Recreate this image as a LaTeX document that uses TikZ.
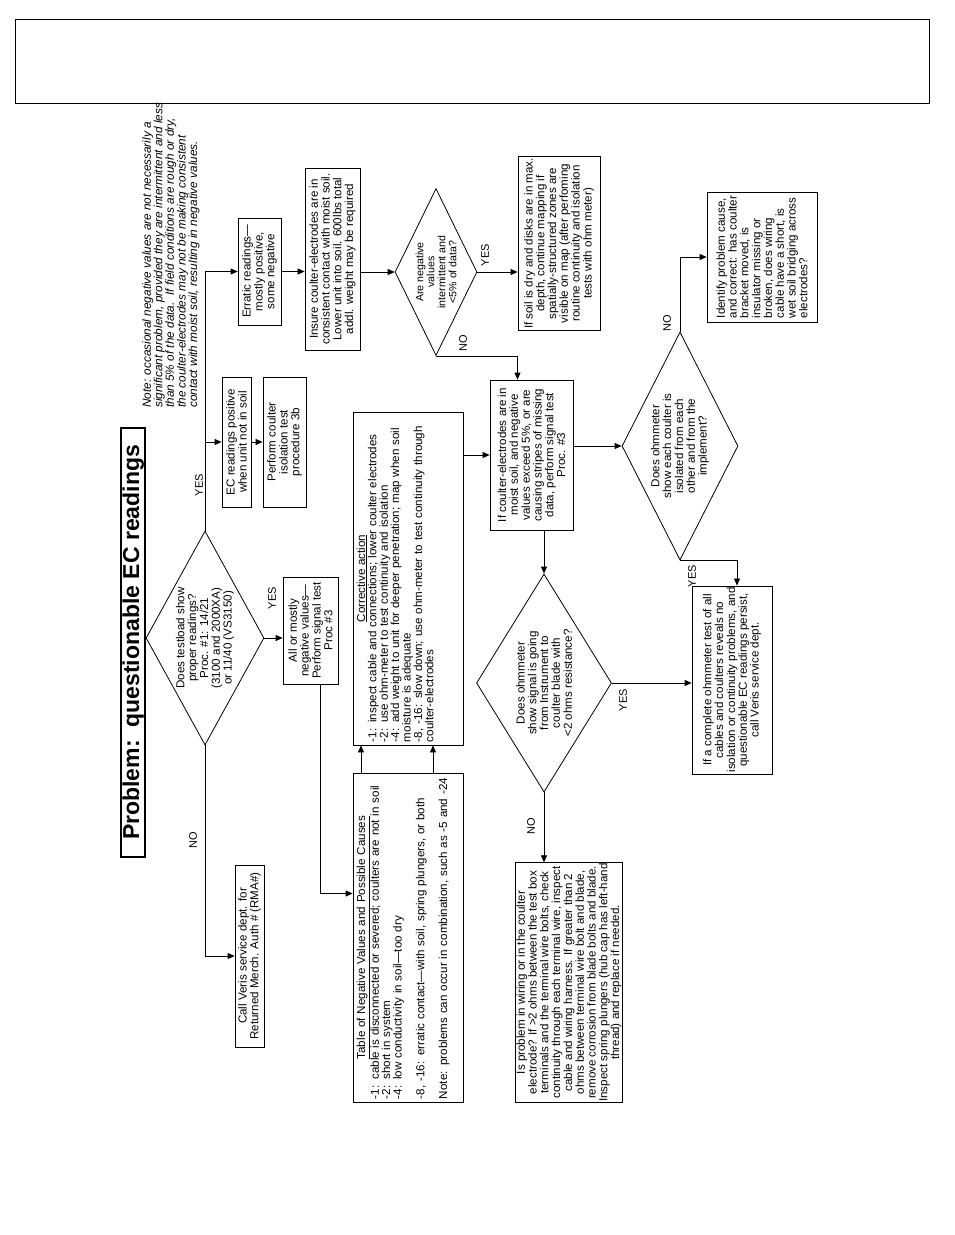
\documentclass[tikz,border=0pt]{standalone}
\usepackage{fontspec}
\setmainfont{Liberation Sans}
\usetikzlibrary{shapes.geometric,arrows.meta}

\begin{document}
\begin{tikzpicture}[x=1pt, y=-1pt, >={Triangle[length=7pt,width=6pt]},
    box/.style={draw, line width=0.8pt, rotate=90, align=center, inner sep=1.5pt, font=\fontsize{11.6}{11.8}\selectfont},
    query/.style={draw, line width=0.8pt, diamond, rotate=90, align=center, inner sep=0pt, font=\fontsize{11.6}{11.8}\selectfont},
    sheet/.style={draw, line width=0.8pt, rotate=90, align=left, inner sep=3pt, text height=9pt, font=\fontsize{11.6}{11.4}\selectfont},
    tag/.style={rotate=90, inner sep=0pt, font=\fontsize{11}{12}\selectfont},
    link/.style={->, line width=0.8pt}]
  \fill[white] (0,0) rectangle (954,1235);
  \useasboundingbox (0,0) rectangle (954,1235);

  % header and title
  \node[draw, line width=0.8pt, minimum width=914pt, minimum height=84pt] (header) at (472,61) {};
  \node[draw, line width=2.4pt, rotate=90, inner sep=0pt, minimum width=429pt, minimum height=24pt,
        text height=16.5pt, text depth=4.5pt, font=\bfseries\fontsize{23}{25}\selectfont] (title) at (133,642.5)
        {Problem:\ \ questionable EC readings};
  \node[rotate=90, anchor=north west, align=left, inner sep=0pt, font=\itshape\fontsize{11.8}{11.6}\selectfont] (note) at (142,408)
        {Note: occasional negative values are not necessarily a\\
         significant problem, provided they are intermittent and less\\
         than 5\% of the data.\ \ If field conditions are rough or dry,\\
         the coulter-electrodes may not be making consistent\\
         contact with moist soil, resulting in negative values.};

  % testload question and its branches
  \node[query, aspect=1.8, minimum width=214pt, minimum height=118pt] (d1) at (205,638)
        {Does testload show\\proper readings?\\Proc. \#1: 14/21\\(3100 and 2000XA)\\or 11/40 (VS3150)};
  \node[box, minimum width=107pt, minimum height=43pt] (err) at (259.5,271.5)
        {Erratic readings—\\mostly positive,\\some negative};
  \node[box, minimum width=130pt, minimum height=29pt] (ecp) at (236.5,442)
        {EC readings positive\\when unit not in soil};
  \node[box, minimum width=130pt, minimum height=43pt] (perf) at (284.5,442)
        {Perform coulter\\isolation test\\procedure 3b};
  \node[box, minimum width=107pt, minimum height=55pt] (all) at (310.5,630.5)
        {All or mostly\\negative values—\\Perform signal test\\Proc \#3};
  \node[box, minimum width=182pt, minimum height=29pt] (rma) at (249.5,956)
        {Call Veris service dept. for\\Returned Merch. Auth \# (RMA\#)};

  % negative values
  \node[sheet, text width=323pt, text depth=95pt] (tab) at (408,937.5)
        {\makebox[\linewidth][c]{\underline{Table of Negative Values and Possible Causes}}\\
         -1: cable is disconnected or severed; coulters are not in soil\\
         -2: short in system\\
         -4: low conductivity in soil—too dry\\[11.4pt]
         -8, -16: erratic contact—with soil, spring plungers, or both\\[11.4pt]
         Note: problems can occur in combination, such as -5 and -24};
  \node[sheet, text width=327pt, text depth=95pt] (corr) at (408,578.5)
        {\makebox[\linewidth][c]{\underline{Corrective action}}\\
         -1: inspect cable and connections; lower coulter electrodes\\
         -2: use ohm-meter to test continuity and isolation\\
         -4: add weight to unit for deeper penetration; map when soil\\
         moisture is adequate\\
         -8, -16: slow down; use ohm-meter to test continuity through\\
         coulter-electrodes};

  % erratic readings
  \node[box, minimum width=182pt, minimum height=55pt] (ins) at (332.5,259)
        {Insure coulter-electrodes are in\\consistent contact with moist soil.\\Lower unit into soil. 600lbs total\\addl. weight may be required};
  \node[query, aspect=2.04, minimum width=167pt, minimum height=82pt, font=\fontsize{10.6}{11}\selectfont] (d2) at (436,272)
        {Are negative\\values\\intermittent and\\<5\% of data?};
  \node[box, minimum width=173pt, minimum height=82pt] (soil) at (559,243.5)
        {If soil is dry and disks are in max.\\depth, continue mapping if\\spatially-structured zones are\\visible on map (after perfoming\\routine continuity and isolation\\tests with ohm meter)};
  \node[box, minimum width=150pt, minimum height=83pt] (ifc) at (531.5,455)
        {If coulter-electrodes are in\\moist soil, and negative\\values exceed 5\%, or are\\causing stripes of missing\\data, perform signal test\\Proc. \#3};

  % ohmmeter checks
  \node[query, aspect=1.61, minimum width=218pt, minimum height=135pt] (d3) at (544,683)
        {Does ohmmeter\\show signal is going\\from Instrument to\\coulter blade with\\<2 ohms resistance?};
  \node[box, inner sep=0.5pt, minimum width=235pt, minimum height=106pt] (wire) at (569,982.5)
        {Is problem in wiring or in the coulter\\electrode? If >2 ohms between the test box\\terminals and the terminal wire bolts, check\\continuity through each terminal wire, inspect\\cable and wiring harness. If greater than 2\\ohms between terminal wire bolt and blade,\\remove corrosion from blade bolts and blade.\\Inspect spring plungers (hub cap has left-hand\\thread) and replace if needed.};
  \node[query, aspect=1.97, minimum width=228pt, minimum height=116pt] (d4) at (680,446)
        {Does ohmmeter\\show each coulter is\\isolated from each\\other and from the\\implement?};
  \node[box, align=left, minimum width=130pt, minimum height=110pt] (ident) at (762,257)
        {Identify problem cause,\\and correct: has coulter\\bracket moved, is\\insulator missing or\\broken, does wiring\\cable have a short, is\\wet soil bridging across\\electrodes?};
  \node[box, minimum width=180pt, minimum height=80pt] (full) at (732,680)
        {If a complete ohmmeter test of all\\cables and coulters reveals no\\isolation or continuity problems, and\\questionable EC readings persist,\\call Veris service dept.};

  % answers
  \node[tag] (y1) at (199,485) {YES};
  \node[tag] (n1) at (193,840) {NO};
  \node[tag] (y2) at (272,598) {YES};
  \node[tag] (y3) at (485,255) {YES};
  \node[tag] (n2) at (463,343) {NO};
  \node[tag] (n3) at (531,826) {NO};
  \node[tag] (y4) at (623,700) {YES};
  \node[tag] (n4) at (667,323) {NO};
  \node[tag] (y5) at (692,576) {YES};

  % connectors
  \draw[link] (d1) |- (err);
  \draw[link] (d1) |- (ecp);
  \draw[link] (ecp) -- (perf);
  \draw[link] (d1) -- (d1 -| all.north);
  \draw[link] (d1) |- (rma);
  \draw[link] ([xshift=10pt]all.west) |- ([yshift=44pt]tab.north);
  \draw[link] ([xshift=-47pt]tab.east) -- ([xshift=-47pt]corr.west);
  \draw[link] ([xshift=25pt]tab.east) -- ([xshift=25pt]corr.west);
  \draw[link] (corr.south |- ifc) -- (ifc);
  \draw[link] (err) -- (err -| ins.north);
  \draw[link] (ins.south |- d2) -- (d2);
  \draw[link] (d2) -- (d2 -| soil.north);
  \draw[link] (d2.west) -| ([xshift=-14pt]ifc.east);
  \draw[link] (ifc.west -| d3) -- (d3);
  \draw[link] (ifc.south |- d4) -- (d4);
  \draw[link] (d3) -- (d3 -| full.north);
  \draw[link] (d3) -- (d3 |- wire.east);
  \draw[link] (d4) |- (ident);
  \draw[link] (d4.west) -| ([xshift=5pt]full.east);
\end{tikzpicture}
\end{document}
